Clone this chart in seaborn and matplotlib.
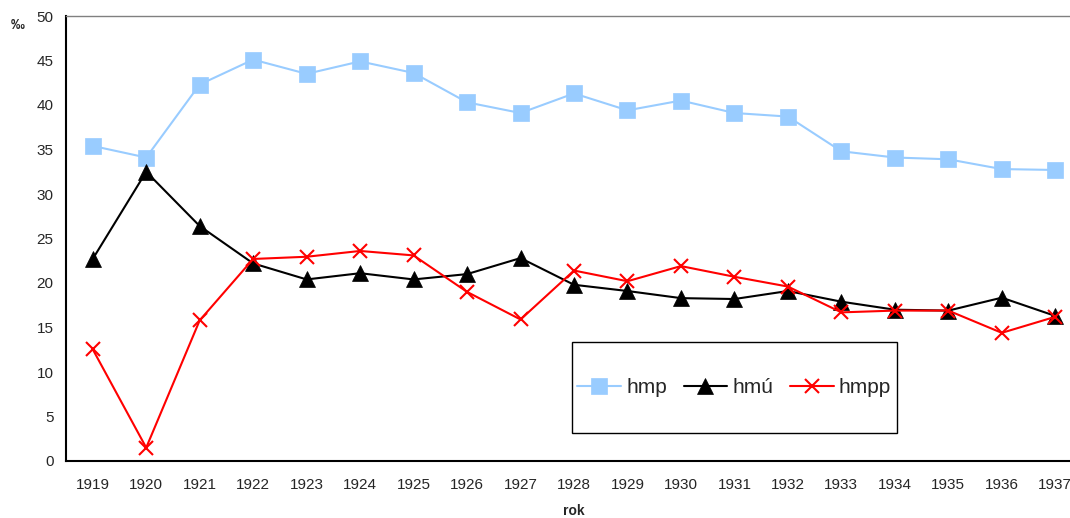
import pandas as pd
import matplotlib
matplotlib.use('Agg')
import matplotlib.pyplot as plt
from matplotlib.patches import Rectangle
import seaborn as sns

# values (per mille)
years = [str(y) for y in range(1919, 1938)]
hmp = [35.4, 34.1, 42.3, 45.1, 43.5, 44.9, 43.6, 40.3, 39.1, 41.3,
       39.4, 40.5, 39.1, 38.7, 34.8, 34.1, 33.9, 32.8, 32.7]
hmu = [22.7, 32.5, 26.4, 22.2, 20.4, 21.1, 20.4, 21.0, 22.8, 19.8,
       19.1, 18.3, 18.2, 19.1, 17.9, 17.0, 16.9, 18.35, 16.3]
hmpp = [12.55, 1.5, 15.8, 22.7, 22.95, 23.6, 23.1, 19.0, 15.9, 21.4,
        20.2, 21.9, 20.7, 19.6, 16.7, 16.9, 16.9, 14.4, 16.2]

series_names = ['hmp', 'hmú', 'hmpp']
series_colors = ['#99CCFF', '#000000', '#FF0000']
series_markers = ['s', '^', 'x']

df = pd.DataFrame({'rok': years, 'hmp': hmp, 'hmú': hmu, 'hmpp': hmpp})
long_df = df.melt(id_vars='rok', var_name='serie', value_name='hodnota')

sns.set_style('white')
plt.rcParams['font.family'] = ['Liberation Sans', 'DejaVu Sans']

fig = plt.figure(figsize=(10.7, 5.18), dpi=100)
# axes run past the right edge, as in the cropped reference
ax = fig.add_axes([66 / 1070, 1 - 461 / 518, 1016 / 1070, 445 / 518])

for name, col, mk in zip(series_names, series_colors, series_markers):
    sub = long_df[long_df['serie'] == name]
    if mk == 'x':
        sns.lineplot(data=sub, x='rok', y='hodnota', ax=ax, color=col, lw=1.5,
                     marker=mk, markersize=10.5, markeredgewidth=1.5,
                     markeredgecolor=col, label=name)
    else:
        sns.lineplot(data=sub, x='rok', y='hodnota', ax=ax, color=col, lw=1.5,
                     marker=mk, markersize=11, markeredgewidth=0.5,
                     markeredgecolor=col, label=name)

ax.set_xlim(-0.5, len(years) - 0.5)
ax.set_ylim(0, 50)
ax.set_yticks(range(0, 51, 5))
ax.tick_params(axis='y', length=0, pad=9, labelsize=11)
ax.tick_params(axis='x', length=0, pad=12, labelsize=11)
ax.set_ylabel('')
ax.set_xlabel('rok', fontweight='bold', fontsize=10, labelpad=9)

for s in ['left', 'bottom']:
    ax.spines[s].set_color('#000000')
    ax.spines[s].set_linewidth(1.5)
ax.spines['top'].set_color('#808080')
ax.spines['top'].set_linewidth(1.0)
ax.spines['right'].set_visible(False)

fig.text(18 / 1070, 1 - 25 / 518, '‰', fontweight='bold', fontsize=10,
         ha='center', va='center')

# legend box
x0 = (571.7 - 66) / 1016
y0 = (461 - 433.3) / 445
w = (896.7 - 571.7) / 1016
h = (433.3 - 342.3) / 445
ax.add_patch(Rectangle((x0, y0), w, h, transform=ax.transAxes, fill=False,
                       edgecolor='#000000', lw=1.0, zorder=5))
ax.legend(loc='center', bbox_to_anchor=(x0 + w / 2, y0 + h / 2), ncol=3,
          frameon=False, fontsize=15, handlelength=2.1, handletextpad=0.25,
          columnspacing=0.8, markerscale=1.0)

fig.savefig('out.png', dpi=100)
